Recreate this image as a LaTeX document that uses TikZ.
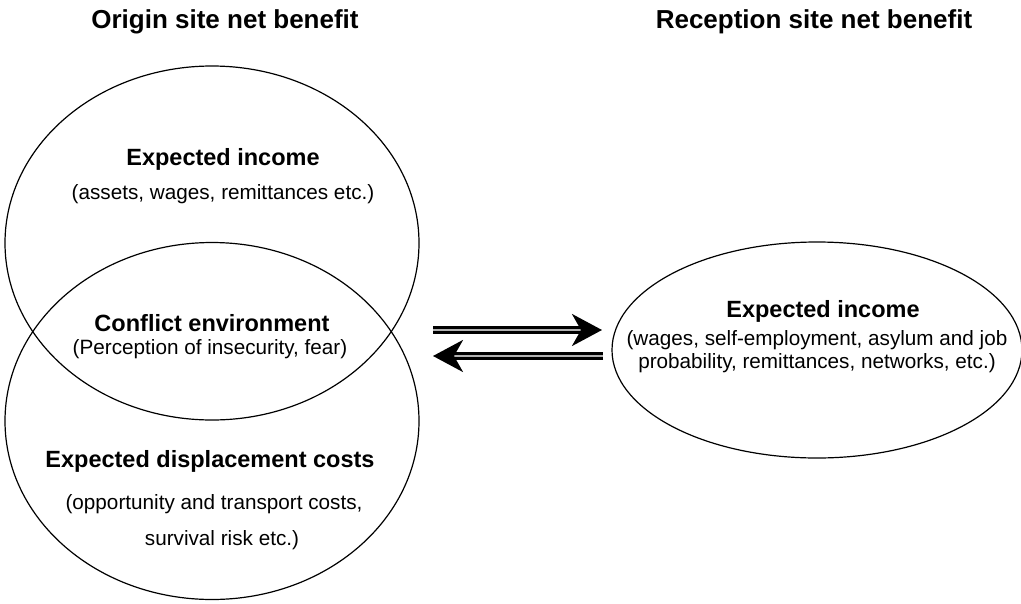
\documentclass[tikz,border=0pt]{standalone}
\usepackage{fontspec}
\setmainfont{Liberation Sans}
\usetikzlibrary{shapes.geometric,arrows.meta}

\tikzset{
  site/.style={ellipse, draw, line width=1.2pt, inner sep=0pt},
  heading/.style={anchor=base, font=\fontsize{26}{30}\selectfont\bfseries},
  label/.style={anchor=base, inner sep=1pt, font=\fontsize{23.5}{27}\selectfont\bfseries},
  detail/.style={anchor=base, inner sep=1pt, font=\fontsize{20.7}{24}\selectfont},
  flow/.style={line width=3pt, double=gray!60, double distance=2pt,
    -{Stealth[length=30pt,width=32pt,inset=9pt]}}
}

\begin{document}
\begin{tikzpicture}[x=1pt, y=-1pt]
\useasboundingbox (0,0) rectangle (1021,603);

\node[heading] (origtitle) at (225,28) {Origin site net benefit};
\node[heading] (receptitle) at (814,28) {Reception site net benefit};

\node[site, minimum width=414pt, minimum height=354pt] (income) at (212,243) {};
\node[site, minimum width=414pt, minimum height=357pt] (costs) at (212,421) {};
\node[site, minimum width=410pt, minimum height=216pt] (recep) at (817,350) {};

\node[label] (incomelab) at (223,165) {Expected income};
\node[detail] (incometxt) at (223,199) {(assets, wages, remittances etc.)};

\node[label] (conflictlab) at (212,331) {Conflict environment};
\node[detail] (conflicttxt) at (210,354) {(Perception of insecurity, fear)};

\node[label] (costslab) at (210,467) {Expected displacement costs};
\node[detail] (coststxt) at (214,509) {(opportunity and transport costs,};
\node[detail] (coststxtb) at (222,545) {survival risk etc.)};

\node[label] (receplab) at (823,317) {Expected income};
\node[detail] (receptxt) at (817,345) {(wages, self-employment, asylum and job};
\node[detail] (receptxtb) at (817,368) {probability, remittances, networks, etc.)};

\coordinate (goout) at (433,330);
\coordinate (goin) at (602,330);
\coordinate (backout) at (603,356);
\coordinate (backin) at (433,356);

\draw[flow] (goout) -- (goin);
\draw[flow] (backout) -- (backin);
\end{tikzpicture}
\end{document}
